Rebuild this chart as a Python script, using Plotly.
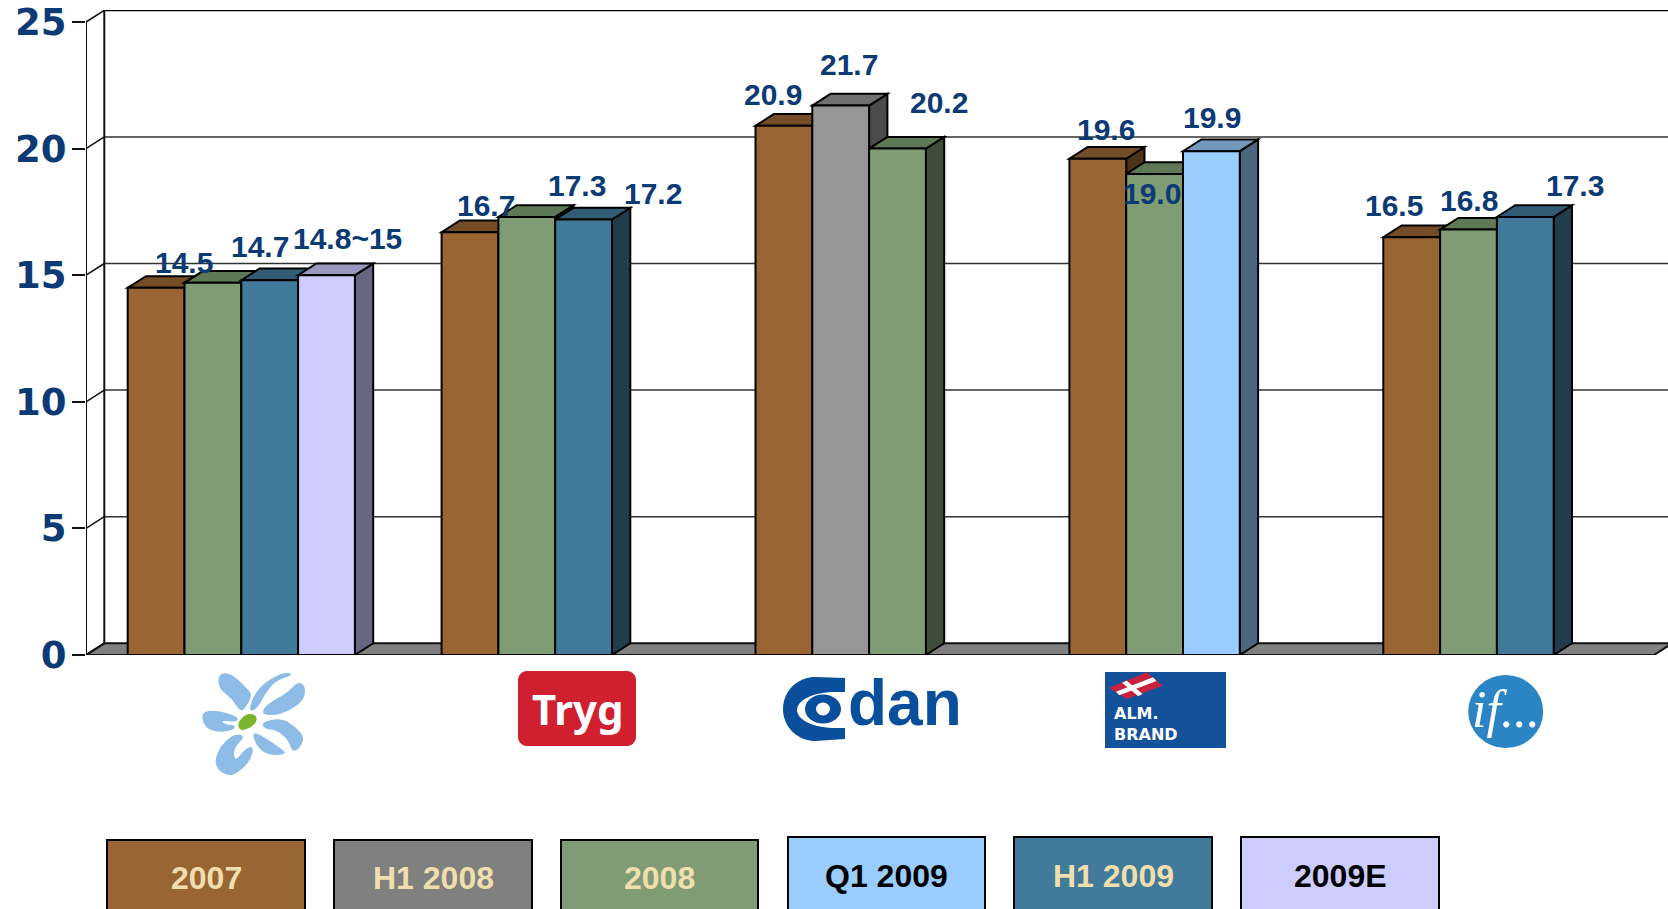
import numpy as np
import plotly.graph_objects as go

# ---------- data ----------
companies = ["Topdanmark", "Tryg", "Codan", "Alm. Brand", "If"]
series_names = ["2007", "H1 2008", "2008", "Q1 2009", "H1 2009", "2009E"]
v_2007 = [14.5, 16.7, 20.9, 19.6, 16.5]
v_h1_2008 = [None, None, 21.7, None, None]
v_2008 = [14.7, 17.3, 20.0, 19.0, 16.8]
v_q1_2009 = [None, None, None, 19.9, None]
v_h1_2009 = [14.8, 17.2, None, None, 17.3]
v_2009e = [15.0, None, None, None, None]
y_ticks = [0, 5, 10, 15, 20, 25]
label_texts = ["14.5", "14.7", "14.8~15", "16.7", "17.3", "17.2", "20.9", "21.7", "20.2",
               "19.6", "19.0", "19.9", "16.5", "16.8", "17.3"]

# ---------- styling / layout ----------
front = ["#996633", "#969696", "#7F9C75", "#99CCFF", "#417A9B", "#CCCCFF"]
top_c = ["#754C28", "#707070", "#5F7856", "#7399BF", "#315C74", "#9999BF"]
side_c = ["#4F3318", "#4B4B4B", "#3F4E3A", "#4D6680", "#203D4E", "#666680"]
legend_fill = ["#996633", "#808080", "#7F9C75", "#99CCFF", "#417A9B", "#CCCCFF"]
legend_text = ["#F0DFAE", "#F0DFAE", "#F0DFAE", "#000000", "#F0DFAE", "#000000"]
legend_x = [(107, 305), (334, 532), (561, 758), (788, 985), (1014, 1212), (1241, 1439)]
legend_top = [840, 840, 840, 837, 837, 837]
legend_cy = [878, 878, 878, 876, 876, 876]
label_px = [(184, 262), (260, 246), (347, 238), (486, 205), (577, 185), (653, 193),
            (773, 94), (849, 64), (939, 102), (1106, 129), (1152, 193), (1212, 117),
            (1394, 205), (1469, 200), (1575, 185)]
NAVY = "#0B3A75"
W, H = 1668, 909
L, T, B = 86, 10, 254
PW, PH = W - L, H - T - B
PX_PER_UNIT = 25.32
G0, GSTEP, BAR_PX = 127.7, 313.9, 56.8
DX_PX, DY_PX = 18.3, 11.7


def X(px):
    return (px - G0) / GSTEP


def Y(py):
    return (H - B - py) / PX_PER_UNIT


def PXP(px):
    return (px - L) / PW


def PYP(py):
    return (H - B - py) / PH


bw = BAR_PX / GSTEP
dx = DX_PX / GSTEP
dy = DY_PX / PX_PER_UNIT
all_series = [v_2007, v_h1_2008, v_2008, v_q1_2009, v_h1_2009, v_2009e]

shapes = []
annotations = []


def dpath(pts):
    return "M " + " L ".join(f"{a:.5f},{b:.5f}" for a, b in pts) + " Z"


# walls and floor
xl, xr = X(L), X(1654)
shapes.append(dict(type="path", path=dpath([(xl, 0), (xr, 0), (xr + dx, dy), (xl + dx, dy)]),
                   xref="x", yref="y", fillcolor="#808080", line=dict(color="#111", width=2), layer="below"))
for t in y_ticks[1:]:
    shapes.append(dict(type="line", xref="x", yref="y", x0=xl + dx, x1=X(W + 5), y0=t + dy, y1=t + dy,
                       line=dict(color="#000" if t == 25 else "#333", width=2 if t == 25 else 1.5), layer="below"))
for t in y_ticks:
    shapes.append(dict(type="line", xref="x", yref="y", x0=xl, x1=xl + dx, y0=t, y1=t + dy,
                       line=dict(color="#111", width=1.5), layer="below"))
for xx, y0, y1 in [(xl, 0, 25), (xl + dx, dy, 25 + dy)]:
    shapes.append(dict(type="line", xref="x", yref="y", x0=xx, x1=xx, y0=y0, y1=y1,
                       line=dict(color="#111", width=2), layer="below"))

# bars: group, slot within group skipping empty series
traces = {i: ([], []) for i in range(len(series_names))}
for g in range(len(companies)):
    slot = 0
    for s, vals in enumerate(all_series):
        v = vals[g]
        if v is None:
            continue
        x0 = g + slot * bw
        x1 = x0 + bw
        traces[s][0].append((x0 + x1) / 2)
        traces[s][1].append(v)
        shapes.append(dict(type="path", xref="x", yref="y", layer="below", fillcolor=side_c[s],
                           line=dict(color="#000", width=2),
                           path=dpath([(x1, 0), (x1 + dx, dy), (x1 + dx, v + dy), (x1, v)])))
        shapes.append(dict(type="path", xref="x", yref="y", layer="below", fillcolor=top_c[s],
                           line=dict(color="#000", width=2),
                           path=dpath([(x0, v), (x1, v), (x1 + dx, v + dy), (x0 + dx, v + dy)])))
        slot += 1

fig = go.Figure()
for s, name in enumerate(series_names):
    fig.add_trace(go.Bar(name=name, x=traces[s][0], y=traces[s][1], width=bw, cliponaxis=False,
                         marker=dict(color=front[s], line=dict(color="#000", width=2)),
                         hoverinfo="name+y", showlegend=False))

# value labels
for txt, (px, py) in zip(label_texts, label_px):
    annotations.append(dict(x=X(px), y=Y(py), xref="x", yref="y", text=txt, showarrow=False,
                            font=dict(family="Liberation Sans", size=30, color=NAVY, weight="bold"),
                            xanchor="center", yanchor="middle"))

# legend boxes
for i, name in enumerate(series_names):
    a, b = legend_x[i]
    shapes.append(dict(type="rect", xref="paper", yref="paper", x0=PXP(a), x1=PXP(b),
                       y0=PYP(legend_top[i]), y1=PYP(H + 6), fillcolor=legend_fill[i],
                       line=dict(color="#000", width=2)))
    annotations.append(dict(x=PXP((a + b) / 2), y=PYP(legend_cy[i]), xref="paper", yref="paper", text=name,
                            showarrow=False, xanchor="center", yanchor="middle",
                            font=dict(family="Liberation Sans", size=32, color=legend_text[i], weight="bold")))


# ---------- logos (pixel geometry converted to paper space) ----------
def ppath(pts):
    return "M " + " L ".join(f"{PXP(a):.5f},{PYP(b):.5f}" for a, b in pts) + " Z"


def smooth_path(pts):
    n = len(pts)
    mid = [((pts[i][0] + pts[(i + 1) % n][0]) / 2, (pts[i][1] + pts[(i + 1) % n][1]) / 2) for i in range(n)]
    s = f"M {PXP(mid[-1][0]):.5f},{PYP(mid[-1][1]):.5f}"
    for i in range(n):
        s += f" Q {PXP(pts[i][0]):.5f},{PYP(pts[i][1]):.5f} {PXP(mid[i][0]):.5f},{PYP(mid[i][1]):.5f}"
    return s + " Z"


def paper_shape(pts, fill, smooth=False):
    shapes.append(dict(type="path", xref="paper", yref="paper", path=smooth_path(pts) if smooth else ppath(pts),
                       fillcolor=fill, line=dict(width=0)))


def circle(cx, cy, rx, ry, fill):
    shapes.append(dict(type="circle", xref="paper", yref="paper", x0=PXP(cx - rx), x1=PXP(cx + rx),
                       y0=PYP(cy + ry), y1=PYP(cy - ry), fillcolor=fill, line=dict(width=0)))


def text(px, py, s, family, size, color, weight="bold", style="normal", anchor="center"):
    annotations.append(dict(x=PXP(px), y=PYP(py), xref="paper", yref="paper", text=s, showarrow=False,
                            xanchor=anchor, yanchor="middle", align=anchor,
                            font=dict(family=family, size=size, color=color, weight=weight, style=style)))


# flower
def fz(p):
    return [(190 + a / 3, 665 + b / 3) for a, b in p]


PETAL = "#8DBDE6"
petals = [
    [(85, 25), (125, 25), (170, 70), (188, 90), (165, 130), (150, 140), (125, 100), (85, 70)],
    [(176, 142), (188, 95), (225, 50), (285, 20), (312, 30), (260, 45), (225, 85), (205, 128)],
    [(213, 147), (230, 118), (290, 85), (325, 48), (347, 65), (342, 105), (300, 137), (250, 152)],
    [(33, 145), (70, 133), (147, 155), (140, 172), (90, 166), (110, 180), (137, 180), (130, 197), (80, 202), (43, 187)],
    [(213, 172), (275, 158), (322, 190), (347, 225), (310, 268), (295, 225), (260, 195), (225, 192)],
    [(185, 203), (210, 208), (272, 250), (292, 267), (240, 272), (203, 250)],
    [(135, 206), (167, 213), (130, 250), (135, 292), (165, 250), (192, 243), (182, 287), (140, 327), (115, 332),
     (85, 317), (73, 285), (95, 238)],
]
for p in petals:
    paper_shape(fz(p), PETAL, smooth=True)
paper_shape(fz([(143, 172), (168, 146), (197, 148), (202, 170), (177, 192), (148, 197)]), "#7AB52D", smooth=True)

# Tryg
a, b, c, d, r = 518, 636, 671, 746, 9
tt = np.linspace(0, np.pi / 2, 7)
rounded = []
for cx, cy, st in [(b - r, c + r, -np.pi / 2), (b - r, d - r, 0), (a + r, d - r, np.pi / 2), (a + r, c + r, np.pi)]:
    rounded += [(cx + r * np.cos(st + q), cy + r * np.sin(st + q)) for q in tt]
paper_shape(rounded, "#D02030")
text(577, 708, "Tryg", "Noto Sans", 42, "#FFFFFF")

# Codan
BLUE = "#0A4F9C"
ang1 = np.linspace(np.pi / 2, 3 * np.pi / 2, 40)
ang2 = ang1[::-1]
c_shape = [(845, 678)] + [(815 + 32 * np.cos(q), 709 - 32 * np.sin(q)) for q in ang1] + [(845, 739), (845, 728)] + \
          [(835 + 38 * np.cos(q), 710 - 18 * np.sin(q)) for q in ang2] + [(845, 692)]
paper_shape(c_shape, BLUE)
circle(823, 709, 18, 14.5, BLUE)
circle(823, 709, 7, 6.5, "#FFFFFF")
text(905, 703, "dan", "Liberation Sans", 64, BLUE)

# Alm. Brand
shapes.append(dict(type="rect", xref="paper", yref="paper", x0=PXP(1105), x1=PXP(1226), y0=PYP(748), y1=PYP(672),
                   fillcolor="#13529B", line=dict(width=0)))


def az(p):
    return [(1100 + a / 3, 665 + b / 3) for a, b in p]


paper_shape(az([(27, 68), (140, 22), (188, 62), (80, 102)]), "#C8213F")
paper_shape(az([(48, 80), (159, 37), (169, 48), (58, 91)]), "#FFFFFF")
paper_shape(az([(66, 53), (80, 47), (128, 87), (114, 93)]), "#FFFFFF")
text(1112, 724, "ALM.<br>BRAND", "DejaVu Sans", 16, "#FFFFFF", anchor="left")

# If
circle(1505.7, 711.5, 37.5, 36.5, "#2B85C4")
text(1506, 709, "if...", "Liberation Serif", 52, "#FFFFFF", weight="normal", style="italic")

fig.update_layout(
    width=W, height=H, margin=dict(l=L, r=0, t=T, b=B, pad=0, autoexpand=False),
    paper_bgcolor="#FFFFFF", plot_bgcolor="#FFFFFF", barmode="overlay",
    xaxis=dict(range=[X(L), X(W)], showgrid=False, zeroline=False, showticklabels=False, ticks="", showline=False),
    yaxis=dict(range=[0, PH / PX_PER_UNIT], tickmode="array", tickvals=y_ticks, ticktext=[str(t) for t in y_ticks],
               showgrid=False, zeroline=False, showline=False, ticks="outside", ticklen=13, tickwidth=2,
               tickcolor="#111", ticklabelstandoff=-2,
               tickfont=dict(family="DejaVu Sans", size=37, color=NAVY, weight="bold")),
    shapes=shapes, annotations=annotations, hovermode="closest",
)
fig.write_html("out.html", config=dict(displayModeBar=False),
               post_script="document.body.style.margin='0';")
